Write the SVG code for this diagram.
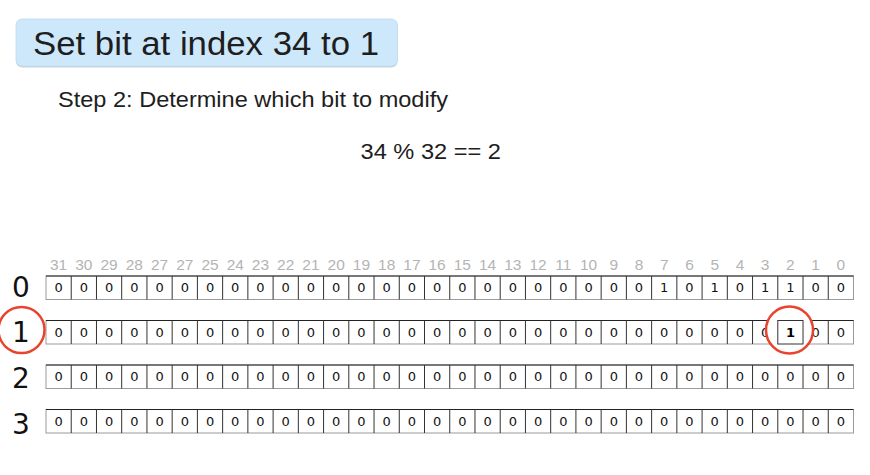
<svg xmlns="http://www.w3.org/2000/svg" xmlns:xlink="http://www.w3.org/1999/xlink" width="870" height="475" viewBox="0 0 870 475">
<style>
.lbl{font-family:"Liberation Sans",Arial,sans-serif;fill:#1e1e1e}
.idx{font-family:"Liberation Sans",Arial,sans-serif;font-size:15.5px;fill:#b4b4b4;text-anchor:middle}
.row{font-family:"DejaVu Sans",sans-serif;font-size:28px;fill:#111;text-anchor:middle}
.b{font-family:"DejaVu Sans",sans-serif;font-size:13px;fill:#111;text-anchor:middle}
.bb{font-family:"DejaVu Sans",sans-serif;font-size:13px;fill:#000;text-anchor:middle;font-weight:bold}
.frame{fill:#fff;stroke:#9a9a9a;stroke-width:1}
.top{stroke:#222;stroke-width:1}
.div{stroke:#333;stroke-width:1;fill:none}
.ring{fill:none;stroke:#e8442e;stroke-width:2.5}
</style>
<defs>
<path id="dividers" class="div" d="M71.23 0V23.5M96.47 0V23.5M121.7 0V23.5M146.94 0V23.5M172.17 0V23.5M197.4 0V23.5M222.64 0V23.5M247.87 0V23.5M273.11 0V23.5M298.34 0V23.5M323.57 0V23.5M348.81 0V23.5M374.04 0V23.5M399.28 0V23.5M424.51 0V23.5M449.74 0V23.5M474.98 0V23.5M500.21 0V23.5M525.45 0V23.5M550.68 0V23.5M575.91 0V23.5M601.15 0V23.5M626.38 0V23.5M651.62 0V23.5M676.85 0V23.5M702.08 0V23.5M727.32 0V23.5M752.55 0V23.5M777.79 0V23.5M803.02 0V23.5M828.26 0V23.5"/>
<g id="grid">
<rect class="frame" x="46" y="0" width="807.5" height="23.5"/>
<line class="top" x1="46" y1="0" x2="853.5" y2="0"/>
<use xlink:href="#dividers" href="#dividers"/>
</g>
<g id="zeros">
<text class="b" x="58.62" y="16.4">0</text><text class="b" x="83.85" y="16.4">0</text><text class="b" x="109.09" y="16.4">0</text><text class="b" x="134.32" y="16.4">0</text><text class="b" x="159.55" y="16.4">0</text><text class="b" x="184.79" y="16.4">0</text><text class="b" x="210.02" y="16.4">0</text><text class="b" x="235.26" y="16.4">0</text><text class="b" x="260.49" y="16.4">0</text><text class="b" x="285.73" y="16.4">0</text><text class="b" x="310.96" y="16.4">0</text><text class="b" x="336.2" y="16.4">0</text><text class="b" x="361.43" y="16.4">0</text><text class="b" x="386.66" y="16.4">0</text><text class="b" x="411.9" y="16.4">0</text><text class="b" x="437.13" y="16.4">0</text><text class="b" x="462.37" y="16.4">0</text><text class="b" x="487.6" y="16.4">0</text><text class="b" x="512.84" y="16.4">0</text><text class="b" x="538.07" y="16.4">0</text><text class="b" x="563.3" y="16.4">0</text><text class="b" x="588.54" y="16.4">0</text><text class="b" x="613.77" y="16.4">0</text><text class="b" x="639.01" y="16.4">0</text>
</g>
</defs>
<rect width="870" height="475" fill="#fff"/>

<g id="title">
<rect x="16" y="20" width="381.5" height="47.5" rx="6" fill="#c9d4dd"/>
<rect x="16" y="19" width="381.5" height="47" rx="6" fill="#cde8fb" stroke="#bcdaf0" stroke-width="0.8"/>
<text class="lbl" x="33" y="55" font-size="34" textLength="346" lengthAdjust="spacingAndGlyphs">Set bit at index 34 to 1</text>
</g>

<g id="step">
<text class="lbl" x="58" y="107" font-size="21.5" textLength="390" lengthAdjust="spacingAndGlyphs">Step 2: Determine which bit to modify</text>
</g>

<g id="equation">
<text class="lbl" x="360.5" y="158.5" font-size="21.5" textLength="140.5" lengthAdjust="spacingAndGlyphs">34 % 32 == 2</text>
</g>

<g id="bit-indices">
<text class="idx" x="58.62" y="270">31</text><text class="idx" x="83.85" y="270">30</text><text class="idx" x="109.09" y="270">29</text><text class="idx" x="134.32" y="270">28</text><text class="idx" x="159.55" y="270">27</text><text class="idx" x="184.79" y="270">27</text><text class="idx" x="210.02" y="270">25</text><text class="idx" x="235.26" y="270">24</text><text class="idx" x="260.49" y="270">23</text><text class="idx" x="285.73" y="270">22</text><text class="idx" x="310.96" y="270">21</text><text class="idx" x="336.2" y="270">20</text><text class="idx" x="361.43" y="270">19</text><text class="idx" x="386.66" y="270">18</text><text class="idx" x="411.9" y="270">17</text><text class="idx" x="437.13" y="270">16</text><text class="idx" x="462.37" y="270">15</text><text class="idx" x="487.6" y="270">14</text><text class="idx" x="512.84" y="270">13</text><text class="idx" x="538.07" y="270">12</text><text class="idx" x="563.3" y="270">11</text><text class="idx" x="588.54" y="270">10</text><text class="idx" x="613.77" y="270">9</text><text class="idx" x="639.01" y="270">8</text><text class="idx" x="664.24" y="270">7</text><text class="idx" x="689.48" y="270">6</text><text class="idx" x="714.71" y="270">5</text><text class="idx" x="739.95" y="270">4</text><text class="idx" x="765.18" y="270">3</text><text class="idx" x="790.41" y="270">2</text><text class="idx" x="815.65" y="270">1</text><text class="idx" x="840.88" y="270">0</text>
</g>

<g id="row-labels">
<text class="row" x="21" y="297">0</text>
<text class="row" x="21" y="342">1</text>
<text class="row" x="21" y="388">2</text>
<text class="row" x="21" y="434">3</text>
</g>

<g id="row0" transform="translate(0,276)">
<use xlink:href="#grid" href="#grid"/>
<use xlink:href="#zeros" href="#zeros"/>
<text class="b" x="664.24" y="16.4">1</text><text class="b" x="689.48" y="16.4">0</text><text class="b" x="714.71" y="16.4">1</text><text class="b" x="739.95" y="16.4">0</text><text class="b" x="765.18" y="16.4">1</text><text class="b" x="790.41" y="16.4">1</text><text class="b" x="815.65" y="16.4">0</text><text class="b" x="840.88" y="16.4">0</text>
</g>

<g id="row1" transform="translate(0,320.5)">
<use xlink:href="#grid" href="#grid"/>
<use xlink:href="#zeros" href="#zeros"/>
<text class="b" x="664.24" y="16.4">0</text><text class="b" x="689.48" y="16.4">0</text><text class="b" x="714.71" y="16.4">0</text><text class="b" x="739.95" y="16.4">0</text><text class="b" x="765.18" y="16.4">0</text><text class="b" x="815.65" y="16.4">0</text><text class="b" x="840.88" y="16.4">0</text>
</g>

<g id="row2" transform="translate(0,365)">
<use xlink:href="#grid" href="#grid"/>
<use xlink:href="#zeros" href="#zeros"/>
<text class="b" x="664.24" y="16.4">0</text><text class="b" x="689.48" y="16.4">0</text><text class="b" x="714.71" y="16.4">0</text><text class="b" x="739.95" y="16.4">0</text><text class="b" x="765.18" y="16.4">0</text><text class="b" x="790.41" y="16.4">0</text><text class="b" x="815.65" y="16.4">0</text><text class="b" x="840.88" y="16.4">0</text>
</g>

<g id="row3" transform="translate(0,409.5)">
<use xlink:href="#grid" href="#grid"/>
<use xlink:href="#zeros" href="#zeros"/>
<text class="b" x="664.24" y="16.4">0</text><text class="b" x="689.48" y="16.4">0</text><text class="b" x="714.71" y="16.4">0</text><text class="b" x="739.95" y="16.4">0</text><text class="b" x="765.18" y="16.4">0</text><text class="b" x="790.41" y="16.4">0</text><text class="b" x="815.65" y="16.4">0</text><text class="b" x="840.88" y="16.4">0</text>
</g>

<g id="highlight-row">
<circle class="ring" cx="21.5" cy="330" r="23"/>
</g>

<g id="highlight-bit">
<circle cx="789.5" cy="330" r="23.5" fill="#fff"/>
<rect x="777.79" y="320.5" width="25.23" height="23.5" fill="#fff" stroke="#333" stroke-width="1"/>
<text class="bb" x="790.41" y="336.9">1</text>
<circle class="ring" cx="789.5" cy="330" r="23.5"/>
</g>
</svg>
